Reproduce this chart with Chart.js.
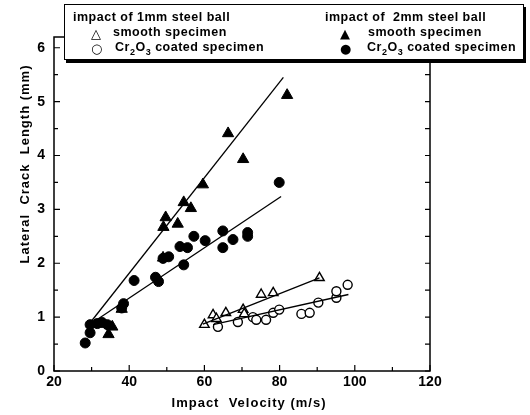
<!DOCTYPE html>
<html>
<head>
<meta charset="utf-8">
<script src="https://cdn.jsdelivr.net/npm/chart.js@4"></script>
<style>
  html, body { margin: 0; padding: 0; background: #fff; }
  #wrap { position: relative; width: 530px; height: 415px; }
  #legend {
    position: absolute; left: 64px; top: 4px; width: 458px; height: 54px;
    border: 1.5px solid #000; box-shadow: 2px 3px 0 #000; background: #fff;
    font: bold 12.5px 'Liberation Sans', Arial, sans-serif; color: #000;
    letter-spacing: 0.5px;
  }
  #legend .t { position: absolute; white-space: nowrap; line-height: 14px; }
  #legend .m { position: absolute; font-family: 'DejaVu Sans', sans-serif; font-size: 13px; line-height: 13px; }
  #legend sub { font-size: 9px; }
</style>
</head>
<body>
<div id="wrap">
  <canvas id="chart" width="530" height="415"></canvas>
  <div id="legend">
    <span class="t" style="left:8px;top:5px">impact of 1mm steel ball</span>
    <span class="m" style="left:26px;top:22px">△</span>
    <span class="t" style="left:48px;top:20px">smooth specimen</span>
    <span class="m" style="left:26px;top:37px">○</span>
    <span class="t" style="left:50px;top:35px">Cr<sub>2</sub>O<sub>3</sub> coated specimen</span>
    <span class="t" style="left:260px;top:5px">impact of &nbsp;2mm steel ball</span>
    <span class="m" style="left:275px;top:22px">▲</span>
    <span class="t" style="left:303px;top:20px">smooth specimen</span>
    <span class="m" style="left:275px;top:37px">●</span>
    <span class="t" style="left:302px;top:35px">Cr<sub>2</sub>O<sub>3</sub> coated specimen</span>
  </div>
</div>
<script>
// impact velocity (m/s), lateral crack length (mm)
var smooth1mm = [[60, 0.86], [62.3, 1.04], [63.2, 0.97], [65.7, 1.08], [70.3, 1.14], [70.6, 1.06],
  [75.1, 1.42], [78.3, 1.45], [90.6, 1.73]];
var coated1mm = [[63.6, 0.82], [68.9, 0.91], [72.9, 1.0], [73.8, 0.95], [76.4, 0.95], [78.3, 1.08],
  [79.9, 1.14], [85.8, 1.06], [88, 1.08], [90.3, 1.27], [95.1, 1.36], [95.1, 1.48], [98.1, 1.6]];
var smooth2mm = [[34.5, 0.68], [35.5, 0.82], [38, 1.15], [49, 2.1], [49.1, 2.67], [49.7, 2.85],
  [52.9, 2.73], [54.5, 3.13], [56.4, 3.02], [59.6, 3.46], [66.3, 4.41], [70.3, 3.93], [82, 5.12]];
var coated2mm = [[28.3, 0.52], [29.6, 0.71], [29.6, 0.86], [31.5, 0.88], [32.8, 0.9], [34.2, 0.86],
  [38, 1.17], [38.5, 1.25], [41.3, 1.68], [47, 1.74], [47.8, 1.66], [49, 2.09], [50.5, 2.12],
  [53.5, 2.31], [55.5, 2.29], [54.5, 1.97], [57.2, 2.5], [60.2, 2.42], [64.9, 2.6], [64.9, 2.29],
  [67.6, 2.44], [71.5, 2.5], [71.5, 2.57], [79.9, 3.5]];

// fitted lines, end points
var fitSmooth1mm = [[59.6, 0.87], [90.6, 1.73]];
var fitCoated1mm = [[62.3, 0.86], [98.3, 1.42]];
var fitSmooth2mm = [[29, 0.84], [81, 5.45]];
var fitCoated2mm = [[29, 0.84], [80.4, 3.24]];

var xTicks = [20, 40, 60, 80, 100, 120];
var yTicks = [0, 1, 2, 3, 4, 5, 6];

var FONT = "'Liberation Sans', Arial, sans-serif";

function pts(arr) {
  return arr.map(function (p) { return { x: p[0], y: p[1] }; });
}

function markers(label, arr, style, radius, filled) {
  return {
    type: 'scatter',
    label: label,
    data: pts(arr),
    pointStyle: style,
    pointRadius: radius,
    pointBackgroundColor: filled ? '#000' : '#fff',
    pointBorderColor: '#000',
    pointBorderWidth: filled ? 1 : 1.4,
  };
}

function fit(arr) {
  return {
    type: 'line',
    data: pts(arr),
    borderColor: '#000',
    borderWidth: 1.3,
    pointRadius: 0,
    fill: false,
  };
}

var frame = {
  id: 'frame',
  afterDraw: function (chart) {
    var ctx = chart.ctx;
    var a = chart.chartArea;
    var x = chart.scales.x;
    var y = chart.scales.y;
    ctx.save();
    ctx.strokeStyle = '#000';
    ctx.lineWidth = 1.5;
    ctx.strokeRect(a.left, a.top, a.right - a.left, a.bottom - a.top);
    ctx.lineWidth = 1.2;
    ctx.beginPath();
    for (var v = 20; v <= 120; v += 10) {
      var px = x.getPixelForValue(v);
      ctx.moveTo(px, a.bottom);
      ctx.lineTo(px, a.bottom - (v % 20 ? 4 : 6));
    }
    for (var w = 0; w <= 6; w += 0.5) {
      var py = y.getPixelForValue(w);
      ctx.moveTo(a.left, py);
      ctx.lineTo(a.left + (w % 1 ? 4 : 6), py);
      ctx.moveTo(a.right, py);
      ctx.lineTo(a.right - 5, py);
    }
    ctx.stroke();

    ctx.fillStyle = '#000';
    ctx.font = 'bold 13px ' + FONT;
    ctx.letterSpacing = '1px';
    ctx.textAlign = 'center';
    ctx.textBaseline = 'middle';
    ctx.fillText('Impact  Velocity (m/s)', 249, 403);
    ctx.translate(25, 164);
    ctx.rotate(-Math.PI / 2);
    ctx.fillText('Lateral  Crack  Length (mm)', 0, 0);
    ctx.restore();
  },
};

new Chart(document.getElementById('chart'), {
  type: 'scatter',
  data: {
    datasets: [
      fit(fitSmooth1mm),
      fit(fitCoated1mm),
      fit(fitSmooth2mm),
      fit(fitCoated2mm),
      markers('1mm smooth', smooth1mm, 'triangle', 5.5, false),
      markers('1mm coated', coated1mm, 'circle', 4.5, false),
      markers('2mm smooth', smooth2mm, 'triangle', 6.5, true),
      markers('2mm coated', coated2mm, 'circle', 5, true),
    ],
  },
  options: {
    responsive: false,
    animation: false,
    layout: { padding: { top: 37, right: 100, left: 0, bottom: 0 } },
    plugins: { legend: { display: false }, tooltip: { enabled: false } },
    scales: {
      x: {
        type: 'linear',
        min: 20,
        max: 120,
        afterFit: function (s) { s.height = 44; },
        afterBuildTicks: function (s) {
          s.ticks = xTicks.map(function (v) { return { value: v }; });
        },
        grid: { display: false, drawTicks: false },
        border: { display: false },
        ticks: { color: '#000', padding: 3, maxRotation: 0, font: { family: FONT, size: 14, weight: 'bold' } },
      },
      y: {
        type: 'linear',
        min: 0,
        max: 6.2,
        afterFit: function (s) { s.width = 54; },
        afterBuildTicks: function (s) {
          s.ticks = yTicks.map(function (v) { return { value: v }; });
        },
        grid: { display: false, drawTicks: false },
        border: { display: false },
        ticks: { color: '#000', padding: 9, font: { family: FONT, size: 14, weight: 'bold' } },
      },
    },
  },
  plugins: [frame],
});
</script>
</body>
</html>
